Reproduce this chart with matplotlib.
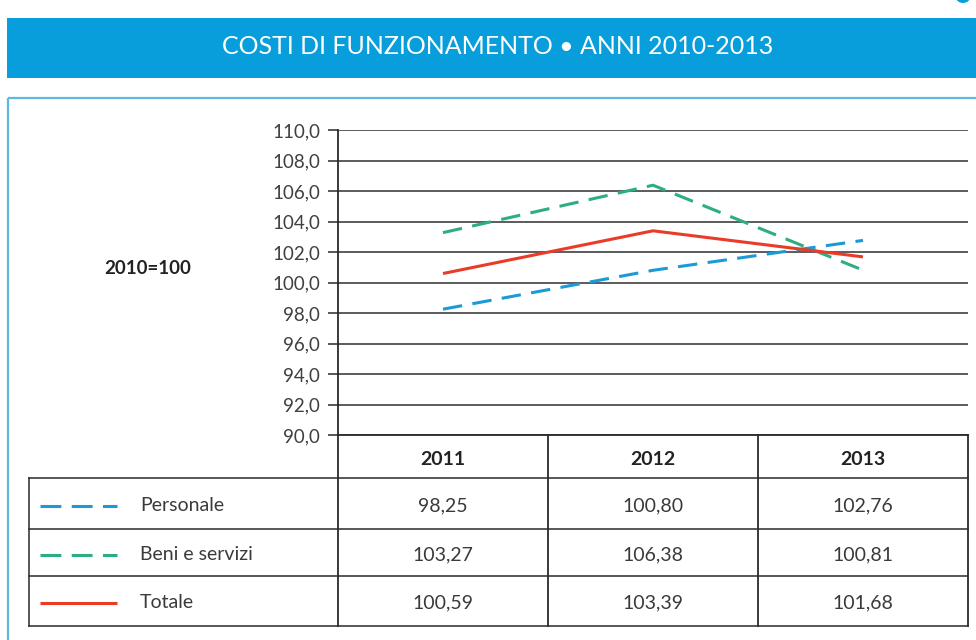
import matplotlib
matplotlib.use('Agg')
import matplotlib.pyplot as plt
from matplotlib.patches import Rectangle, Circle

# ---------------- data ----------------
years = ['2011', '2012', '2013']
series_names = ['Personale', 'Beni e servizi', 'Totale']
personale = [98.25, 100.80, 102.76]
beni_servizi = [103.27, 106.38, 100.81]
totale = [100.59, 103.39, 101.68]
yticks = [90, 92, 94, 96, 98, 100, 102, 104, 106, 108, 110]
title = 'COSTI DI FUNZIONAMENTO • ANNI 2010-2013'
base_label = '2010=100'

colors = ['#1B9AD6', '#2DAE80', '#EA3A28']
dash_styles = [(14, 7.5), (14, 7.5), None]
series_values = [personale, beni_servizi, totale]

plt.rcParams['lines.scale_dashes'] = False
FONT = ['Lato', 'DejaVu Sans']
plt.rcParams['font.family'] = FONT

W, H = 976, 640
fig = plt.figure(figsize=(W / 100, H / 100), dpi=100)

def fmt(v, nd):
    return f"{v:.{nd}f}".replace('.', ',')

# decoration axes in pixel coordinates
deco = fig.add_axes([0, 0, 1, 1])
deco.set_xlim(0, W)
deco.set_ylim(H, 0)
deco.axis('off')
deco.add_patch(Rectangle((7, 18), 980, 60, color='#079EDB', lw=0))
deco.add_patch(Circle((963, -5), 8, color='#079EDB', lw=0))
deco.text(498, 46, title, color='white', fontsize=18, ha='center', va='center')
deco.add_patch(Rectangle((7.5, 98), 990, 560, fill=False, ec='#5DB9E2', lw=1.6))
deco.text(148, 268, base_label, fontsize=13.5, fontweight='bold', color='#222222',
          ha='center', va='center')

# main chart axes
x0, x1, ytop, ybot = 338, 968, 130, 435
ax = fig.add_axes([x0 / W, 1 - ybot / H, (x1 - x0) / W, (ybot - ytop) / H])
ax.patch.set_visible(False)
ax.set_xlim(-0.5, len(years) - 0.5)
ax.set_ylim(yticks[0], yticks[-1])
ax.set_yticks(yticks)
ax.set_yticklabels([fmt(v, 1) for v in yticks])
ax.set_xticks([])
ax.yaxis.grid(True, color='#2f2f2f', lw=1.1)
ax.set_axisbelow(True)
for s in ['top', 'right']:
    ax.spines[s].set_visible(False)
for s in ['left', 'bottom']:
    ax.spines[s].set_color('#2a2a2a')
    ax.spines[s].set_linewidth(1.3)
ax.tick_params(axis='y', length=7, width=1.1, color='#2a2a2a', pad=6,
               labelsize=13.5, labelcolor='#404040')

xs = list(range(len(years)))
for vals, c, d in zip(series_values, colors, dash_styles):
    if d is None:
        ax.plot(xs, vals, color=c, lw=2.2, solid_capstyle='butt', zorder=3)
    else:
        ax.plot(xs, vals, color=c, lw=2.2, dashes=d, zorder=3)

# ---------------- table ----------------
line_c = '#2a2a2a'
col_edges = [29, 338, 548, 758, 968]
row_edges = [435, 478, 529, 576, 626]
for y in row_edges[1:]:
    deco.plot([col_edges[0], col_edges[-1]], [y, y], color=line_c, lw=1.1)
deco.plot([col_edges[0], col_edges[0]], [row_edges[1], row_edges[-1]], color=line_c, lw=1.1)
for xc in col_edges[1:]:
    deco.plot([xc, xc], [row_edges[0], row_edges[-1]], color=line_c, lw=1.3)

for j, yr in enumerate(years):
    cx = (col_edges[j + 1] + col_edges[j + 2]) / 2
    deco.text(cx, (row_edges[0] + row_edges[1]) / 2 + 3, yr, fontsize=14,
              fontweight='bold', color='#222222', ha='center', va='center')

for i, (name, vals, c, d) in enumerate(zip(series_names, series_values, colors, dash_styles)):
    cy = (row_edges[i + 1] + row_edges[i + 2]) / 2 + 2
    if d is None:
        deco.plot([40, 117], [cy, cy], color=c, lw=2.2, solid_capstyle='butt')
    else:
        deco.plot([40, 117], [cy, cy], color=c, lw=2.2, dashes=(15, 7.5))
    deco.text(140, cy, name, fontsize=14, color='#3a3a3a',
              ha='left', va='center')
    for j, v in enumerate(vals):
        cx = (col_edges[j + 1] + col_edges[j + 2]) / 2
        deco.text(cx, cy, fmt(v, 2), fontsize=14, color='#3a3a3a',
                  ha='center', va='center')

fig.savefig('out.png', dpi=100)
